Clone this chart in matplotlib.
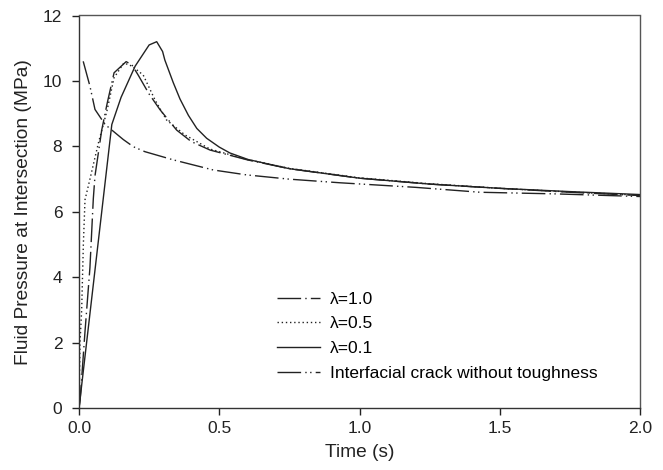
import numpy as np
import matplotlib
matplotlib.use("Agg")
import matplotlib.pyplot as plt

plt.rcParams['font.family'] = ['Liberation Sans', 'DejaVu Sans']

# lambda = 1.0 (dash-dot)
t_l10 = [0, 0.004, 0.021, 0.039, 0.051, 0.057, 0.081, 0.1, 0.125, 0.168, 0.188, 0.211, 0.25,
         0.289, 0.348, 0.4, 0.467, 0.6, 0.75, 1.0, 1.25, 1.5, 1.75, 2.0]
p_l10 = [0, 0.25, 2.3, 4.3, 6.4, 7.1, 8.5, 9.3, 10.25, 10.59, 10.5, 10.18, 9.6,
         9.12, 8.5, 8.15, 7.89, 7.59, 7.32, 7.03, 6.85, 6.72, 6.6, 6.5]

# lambda = 0.5 (dotted)
t_l05 = [0, 0.0036, 0.0095, 0.0155, 0.0214, 0.039, 0.069, 0.1, 0.125, 0.16, 0.19, 0.229,
         0.271, 0.312, 0.378, 0.467, 0.6, 0.75, 1.0, 1.25, 1.5, 1.75, 2.0]
p_l05 = [0, 2.0, 3.0, 5.0, 6.37, 7.0, 8.1, 9.1, 10.1, 10.55, 10.45, 10.18,
         9.42, 8.81, 8.35, 7.92, 7.6, 7.33, 7.04, 6.86, 6.72, 6.61, 6.51]

# lambda = 0.1 (solid)
t_l01 = [0, 0.117, 0.15, 0.2, 0.25, 0.277, 0.298, 0.306, 0.336, 0.36, 0.39, 0.42, 0.455,
         0.5, 0.538, 0.603, 0.75, 1.0, 1.25, 1.5, 1.75, 2.0]
p_l01 = [0, 8.67, 9.5, 10.45, 11.1, 11.2, 10.9, 10.64, 9.95, 9.45, 8.95, 8.55, 8.25,
         7.98, 7.8, 7.6, 7.32, 7.03, 6.85, 6.72, 6.62, 6.53]

# interfacial crack without toughness
t_int = [0.015, 0.039, 0.057, 0.093, 0.158, 0.194, 0.235, 0.336, 0.479, 0.598, 0.75,
         0.93, 1.2, 1.43, 1.7, 2.0]
p_int = [10.6, 9.84, 9.13, 8.67, 8.21, 7.99, 7.84, 7.59, 7.28, 7.13, 7.0,
         6.89, 6.75, 6.6, 6.55, 6.47]

labels = ['λ=1.0', 'λ=0.5', 'λ=0.1', 'Interfacial crack without toughness']

fig = plt.figure(figsize=(6.63, 4.70), dpi=100)
ax = fig.add_axes([79 / 663, 1 - 408.3 / 470, (640 - 79) / 663, (408.3 - 15.5) / 470])

lw = 1.0
ax.plot(t_l10, p_l10, color='#222222', lw=lw, dashes=(17, 3, 1, 3), label=labels[0])
ax.plot(t_l05, p_l05, color='#222222', lw=lw, dashes=(1, 2), label=labels[1])
ax.plot(t_l01, p_l01, color='#222222', lw=lw, label=labels[2])
ax.plot(t_int, p_int, color='#222222', lw=lw, dashes=(17, 3, 1, 2.5, 1, 3), label=labels[3])

ax.set_xlim(0, 2.0)
ax.set_ylim(0, 12)
ax.set_xticks([0, 0.5, 1.0, 1.5, 2.0])
ax.set_xticklabels(['0.0', '0.5', '1.0', '1.5', '2.0'])
ax.set_yticks(np.arange(0, 13, 2))
ax.tick_params(direction='out', length=5, width=1, labelsize=12.5, colors='#222222',
               top=False, right=False)
ax.tick_params(axis='x', pad=4)
ax.tick_params(axis='y', pad=7)
for s in ax.spines.values():
    s.set_color('#333333')
    s.set_linewidth(1.0)
ax.spines['top'].set_color('#555555')
ax.spines['right'].set_color('#555555')

ax.set_xlabel('Time (s)', fontsize=13.8, color='#222222', labelpad=6)
ax.set_ylabel('Fluid Pressure at Intersection (MPa)', fontsize=13.8, color='#222222', labelpad=8)

ax.legend(loc='lower left', bbox_to_anchor=(0.353, 0.07), frameon=False, fontsize=12.5,
          handlelength=2.45, handletextpad=0.6, labelspacing=0.55, borderpad=0,
          borderaxespad=0)

fig.savefig('out.png', dpi=100)
